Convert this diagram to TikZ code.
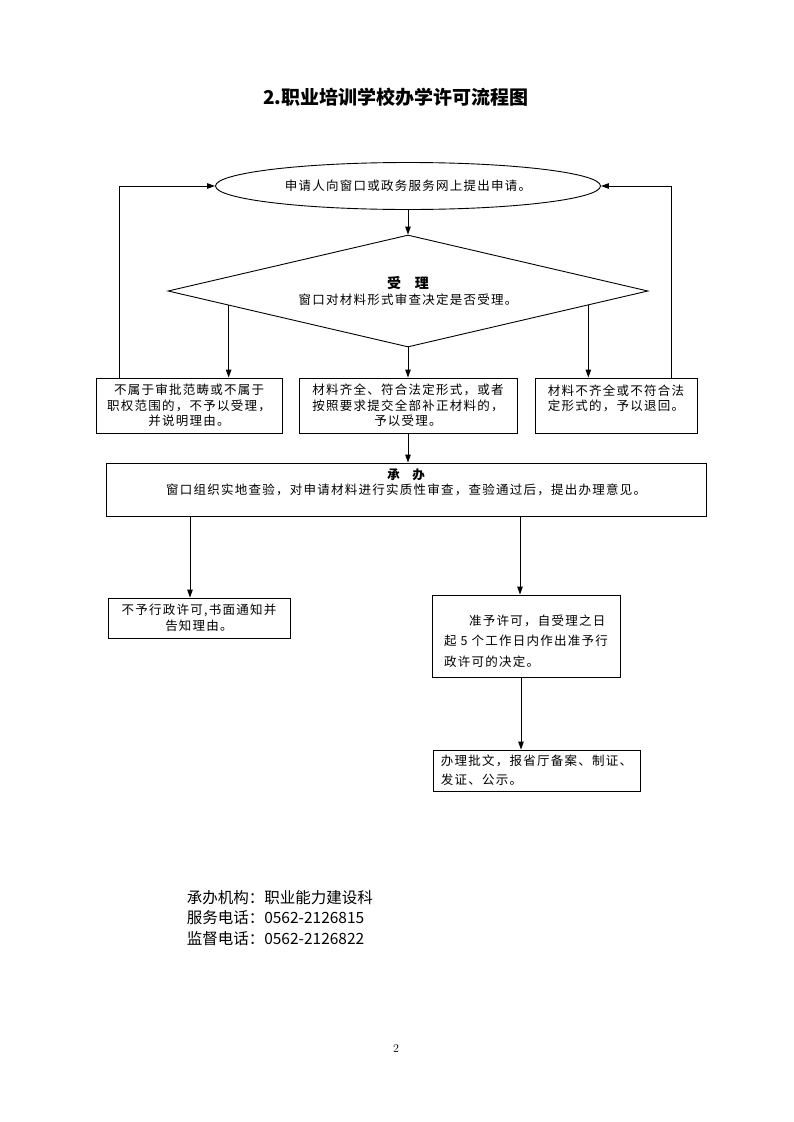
\documentclass[tikz,border=0pt]{standalone}
\usepackage{fontspec}
\newfontfamily\cjk[LetterSpace=10]{Noto Sans CJK SC}
\newfontfamily\cjkhei{Noto Sans CJK SC}
\usetikzlibrary{shapes.geometric,arrows.meta,calc}

\begin{document}
\begin{tikzpicture}[x=1pt, y=-1pt, line width=0.9pt,
    every node/.style={font=\cjk\fontsize{12.5}{15.5}\selectfont},
    box/.style={draw, rectangle, inner sep=0pt, align=center},
    post/.style={-{Triangle[length=8pt,width=5.5pt]}}]

   \useasboundingbox (0,0) rectangle (793,1122);

   \node[font=\cjkhei\bfseries\fontsize{19}{22}\selectfont] (vTitle) at (396,97) {2.职业培训学校办学许可流程图};

   \node[draw, ellipse, minimum width=385pt, minimum height=47pt, inner sep=0pt]
      (vApply) at (408,186) {申请人向窗口或政务服务网上提出申请。};
   \node[draw, diamond, aspect=4.29, minimum width=480pt, minimum height=112pt, inner sep=0pt, align=center]
      (vAccept) at (408,291) {{\bfseries\fontsize{14}{16}\selectfont 受\quad 理}\\窗口对材料形式审查决定是否受理。};

   \node[box, minimum width=186pt, minimum height=55pt] (vNo) at (189,405.5)
      {不属于审批范畴或不属于\\职权范围的，不予以受理，\\并说明理由。};
   \node[box, minimum width=218pt, minimum height=55pt] (vYes) at (408,405.5)
      {材料齐全、符合法定形式，或者\\按照要求提交全部补正材料的，\\予以受理。};
   \node[box, minimum width=162pt, minimum height=55pt] (vBack) at (616,405.5)
      {材料不齐全或不符合法\\定形式的，予以退回。\\{}};

   \node[box, minimum width=600pt, minimum height=53pt] (vHandle) at (406,489.5)
      {{\bfseries 承\quad 办}\\窗口组织实地查验，对申请材料进行实质性审查，查验通过后，提出办理意见。\\{}};

   \node[box, minimum width=182pt, minimum height=40pt] (vDeny) at (199,618)
      {不予行政许可,书面通知并\\告知理由。};
   \node[box, align=left, minimum width=188pt, minimum height=82pt,
         font=\cjk\fontsize{12.5}{20.5}\selectfont] (vGrant) at (526,636)
      {{}\\\hspace*{2em}准予许可，自受理之日\\起 5 个工作日内作出准予行\\政许可的决定。};
   \node[box, align=left, minimum width=207pt, minimum height=41pt,
         font=\cjk\fontsize{12.5}{19}\selectfont] (vIssue) at (536.5,770.5)
      {办理批文，报省厅备案、制证、\\发证、公示。};

   \node[font=\cjkhei\fontsize{15.5}{20.5}\selectfont, align=left, anchor=west] (vFooter) at (183,918)
      {承办机构：职业能力建设科\\服务电话：0562-2126815\\监督电话：0562-2126822};
   \node[font=\rmfamily\fontsize{12}{14}\selectfont] (vPage) at (396,1048) {2};

   % straight arrows down the middle
   \foreach \i/\j in {Apply/Accept, Accept/Yes, Yes/Handle}
      \draw (v\i.south) edge[post] (v\i.south |- v\j.north);

   % out of the diamond
   \coordinate (dL) at ($(vAccept.west)!0.254!(vAccept.south)$);
   \coordinate (dR) at ($(vAccept.east)!0.25!(vAccept.south)$);
   \draw[post] (dL) -- (dL |- vNo.north);
   \draw[post] (dR) -- (dR |- vBack.north);

   % back to the application
   \draw[post] ([xshift=24pt]vNo.north west) |- (vApply.west);
   \draw[post] ([xshift=-26pt]vBack.north east) |- (vApply.east);

   % decision
   \coordinate (cDeny) at ([xshift=-9pt]vDeny.north);
   \coordinate (cGrant) at ([xshift=-6pt]vGrant.north);
   \coordinate (cIssue) at ([xshift=-5pt]vGrant.south);
   \draw[post] (cDeny |- vHandle.south) -- (cDeny);
   \draw[post] (cGrant |- vHandle.south) -- (cGrant);
   \draw[post] (cIssue) -- (cIssue |- vIssue.north);

\end{tikzpicture}
\end{document}
